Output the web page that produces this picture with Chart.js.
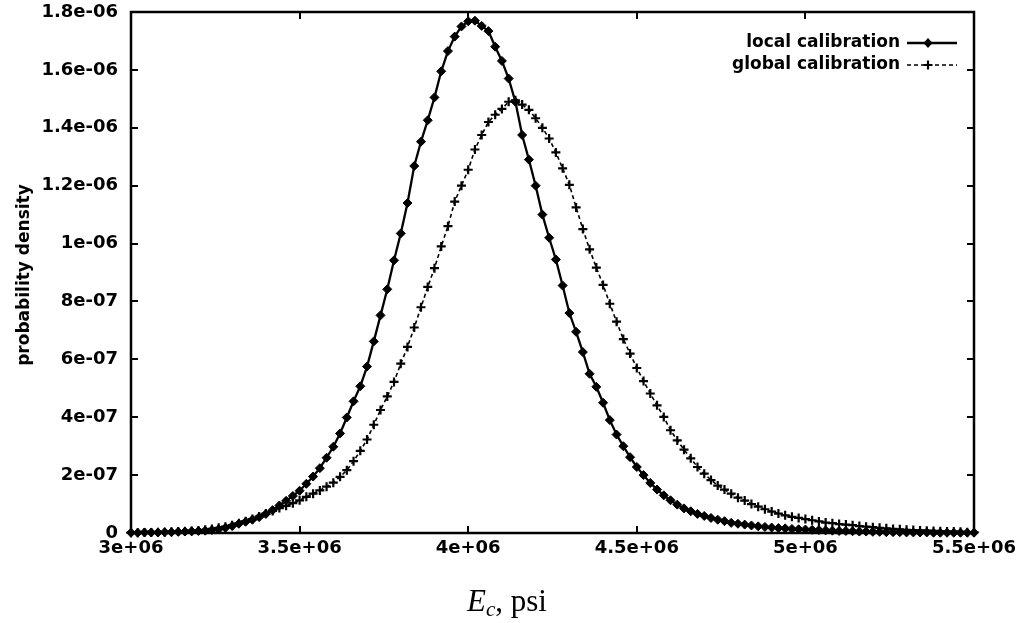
<!DOCTYPE html>
<html>
<head>
<meta charset="utf-8">
<script src="https://cdn.jsdelivr.net/npm/chart.js@4/dist/chart.umd.min.js"></script>
<style>
  html, body { margin: 0; padding: 0; background: #fff; }
  #wrap { width: 1024px; height: 623px; }
</style>
</head>
<body>
<div id="wrap"><canvas id="lineChart" width="1024" height="623"></canvas></div>
<script>
// x positions, in units of 1e6 psi
const ecMpsi = [
  3.00, 3.02, 3.04, 3.06, 3.08, 3.10, 3.12, 3.14, 3.16, 3.18,
  3.20, 3.22, 3.24, 3.26, 3.28, 3.30, 3.32, 3.34, 3.36, 3.38,
  3.40, 3.42, 3.44, 3.46, 3.48, 3.50, 3.52, 3.54, 3.56, 3.58,
  3.60, 3.62, 3.64, 3.66, 3.68, 3.70, 3.72, 3.74, 3.76, 3.78,
  3.80, 3.82, 3.84, 3.86, 3.88, 3.90, 3.92, 3.94, 3.96, 3.98,
  4.00, 4.02, 4.04, 4.06, 4.08, 4.10, 4.12, 4.14, 4.16, 4.18,
  4.20, 4.22, 4.24, 4.26, 4.28, 4.30, 4.32, 4.34, 4.36, 4.38,
  4.40, 4.42, 4.44, 4.46, 4.48, 4.50, 4.52, 4.54, 4.56, 4.58,
  4.60, 4.62, 4.64, 4.66, 4.68, 4.70, 4.72, 4.74, 4.76, 4.78,
  4.80, 4.82, 4.84, 4.86, 4.88, 4.90, 4.92, 4.94, 4.96, 4.98,
  5.00, 5.02, 5.04, 5.06, 5.08, 5.10, 5.12, 5.14, 5.16, 5.18,
  5.20, 5.22, 5.24, 5.26, 5.28, 5.30, 5.32, 5.34, 5.36, 5.38,
  5.40, 5.42, 5.44, 5.46, 5.48, 5.50
];

// densities, in units of 1e-7
const localCal = [
  0.01, 0.01, 0.02, 0.02, 0.02, 0.03, 0.03, 0.04, 0.05, 0.06,
  0.07, 0.08, 0.10, 0.13, 0.18, 0.24, 0.32, 0.39, 0.46, 0.55,
  0.66, 0.79, 0.95, 1.11, 1.28, 1.46, 1.70, 1.95, 2.24, 2.60,
  2.98, 3.44, 3.99, 4.55, 5.07, 5.75, 6.62, 7.52, 8.42, 9.42,
  10.35, 11.40, 12.68, 13.52, 14.26, 15.05, 15.95, 16.65, 17.15, 17.50,
  17.68, 17.70, 17.52, 17.34, 16.80, 16.31, 15.70, 14.90, 13.75, 12.90,
  12.00, 11.00, 10.20, 9.45, 8.55, 7.60, 6.95, 6.25, 5.50, 5.05,
  4.50, 3.90, 3.40, 3.00, 2.62, 2.28, 2.00, 1.73, 1.50, 1.30,
  1.13, 0.98, 0.85, 0.75, 0.66, 0.59, 0.52, 0.46, 0.41, 0.35,
  0.32, 0.29, 0.26, 0.23, 0.21, 0.19, 0.17, 0.16, 0.14, 0.13,
  0.12, 0.11, 0.10, 0.09, 0.08, 0.07, 0.07, 0.06, 0.05, 0.05,
  0.04, 0.04, 0.03, 0.03, 0.03, 0.02, 0.02, 0.02, 0.02, 0.01,
  0.01, 0.01, 0.01, 0.01, 0.01, 0.01
];

const globalCal = [
  0.01, 0.01, 0.02, 0.02, 0.03, 0.03, 0.04, 0.05, 0.06, 0.07,
  0.09, 0.11, 0.14, 0.18, 0.22, 0.27, 0.34, 0.41, 0.48, 0.57,
  0.67, 0.76, 0.86, 0.94, 1.03, 1.13, 1.25, 1.36, 1.47, 1.60,
  1.74, 1.94, 2.17, 2.48, 2.84, 3.23, 3.74, 4.25, 4.72, 5.22,
  5.85, 6.43, 7.10, 7.80, 8.50, 9.15, 9.90, 10.60, 11.45, 12.00,
  12.55, 13.25, 13.75, 14.20, 14.45, 14.65, 14.90, 14.95, 14.80, 14.62,
  14.33, 14.00, 13.63, 13.15, 12.60, 12.03, 11.25, 10.50, 9.80, 9.17,
  8.57, 7.92, 7.30, 6.70, 6.20, 5.70, 5.25, 4.82, 4.41, 4.01,
  3.55, 3.20, 2.88, 2.58, 2.28, 2.05, 1.83, 1.64, 1.50, 1.36,
  1.22, 1.12, 1.00, 0.91, 0.82, 0.74, 0.67, 0.61, 0.56, 0.52,
  0.48, 0.44, 0.40, 0.36, 0.34, 0.31, 0.29, 0.27, 0.24, 0.22,
  0.20, 0.18, 0.16, 0.14, 0.13, 0.11, 0.10, 0.09, 0.08, 0.07,
  0.06, 0.05, 0.05, 0.04, 0.03, 0.03
];

const xTicks = [3e6, 3.5e6, 4e6, 4.5e6, 5e6, 5.5e6];
const xTickLabels = ["3e+06", "3.5e+06", "4e+06", "4.5e+06", "5e+06", "5.5e+06"];
const yTicks = [0, 2e-7, 4e-7, 6e-7, 8e-7, 1e-6, 1.2e-6, 1.4e-6, 1.6e-6, 1.8e-6];
const yTickLabels = ["0", "2e-07", "4e-07", "6e-07", "8e-07", "1e-06", "1.2e-06", "1.4e-06", "1.6e-06", "1.8e-06"];

const toPoints = vals => vals.map((v, i) => ({ x: ecMpsi[i] * 1e6, y: v * 1e-7 }));

const tickFont = { family: "DejaVu Sans", size: 18, weight: "bold" };

function drawMarker(ctx, style, x, y) {
    ctx.beginPath();
    if (style === "rectRot") {
        ctx.moveTo(x, y - 5); ctx.lineTo(x + 4.5, y); ctx.lineTo(x, y + 5); ctx.lineTo(x - 4.5, y);
        ctx.closePath(); ctx.fill();
    } else {
        ctx.moveTo(x - 4.5, y); ctx.lineTo(x + 4.5, y); ctx.moveTo(x, y - 4.5); ctx.lineTo(x, y + 4.5);
        ctx.lineWidth = 2.2; ctx.stroke();
    }
}

// box, inward ticks on all sides, legend and axis titles
const decor = {
    id: "decor",
    afterDraw(chart) {
        const { ctx, chartArea: a, scales: { x, y } } = chart;
        ctx.save();
        ctx.strokeStyle = "#000";
        ctx.fillStyle = "#000";
        ctx.lineWidth = 2;
        ctx.beginPath();
        xTicks.forEach(v => {
            const px = Math.round(x.getPixelForValue(v));
            ctx.moveTo(px, a.bottom); ctx.lineTo(px, a.bottom - 7);
            ctx.moveTo(px, a.top); ctx.lineTo(px, a.top + 7);
        });
        yTicks.forEach(v => {
            const py = Math.round(y.getPixelForValue(v));
            ctx.moveTo(a.left, py); ctx.lineTo(a.left + 7, py);
            ctx.moveTo(a.right, py); ctx.lineTo(a.right - 7, py);
        });
        ctx.stroke();
        ctx.lineWidth = 2.5;
        ctx.strokeRect(a.left, a.top, a.right - a.left, a.bottom - a.top);

        // legend
        ctx.font = "bold 17px 'DejaVu Sans'";
        ctx.textAlign = "right";
        ctx.textBaseline = "middle";
        chart.data.datasets.forEach((ds, i) => {
            const ly = 43 + i * 22;
            ctx.fillText(ds.label, 900, ly);
            ctx.save();
            ctx.lineWidth = ds.borderWidth;
            ctx.setLineDash(ds.borderDash || []);
            ctx.beginPath(); ctx.moveTo(907, ly); ctx.lineTo(957, ly); ctx.stroke();
            ctx.restore();
            drawMarker(ctx, ds.pointStyle, 928, ly);
        });

        // y axis title
        ctx.save();
        ctx.translate(25, 275);
        ctx.rotate(-Math.PI / 2);
        ctx.textAlign = "center";
        ctx.font = "bold 17px 'DejaVu Sans'";
        ctx.fillText("probability density", 0, 0);
        ctx.restore();

        // x axis title: E_c, psi
        ctx.textAlign = "left";
        ctx.textBaseline = "alphabetic";
        const big = "31px 'Liberation Serif'";
        const parts = [
            { t: "E", f: "italic " + big, dy: 0 },
            { t: "c", f: "italic 21px 'Liberation Serif'", dy: 5 },
            { t: ", psi", f: big, dy: 0 }
        ];
        let w = 0;
        parts.forEach(p => { ctx.font = p.f; p.w = ctx.measureText(p.t).width; w += p.w; });
        let tx = 507 - w / 2;
        parts.forEach(p => { ctx.font = p.f; ctx.fillText(p.t, tx, 611 + p.dy); tx += p.w; });
        ctx.restore();
    }
};

const ctx = document.getElementById("lineChart").getContext("2d");

new Chart(ctx, {
    type: "line",
    data: {
        datasets: [{
            label: "local calibration",
            data: toPoints(localCal),
            borderColor: "#000",
            backgroundColor: "#000",
            borderWidth: 2.3,
            pointStyle: "rectRot",
            pointRadius: 4.5,
            pointBackgroundColor: "#000",
            pointBorderColor: "#000",
            pointBorderWidth: 1,
            clip: false
        }, {
            label: "global calibration",
            data: toPoints(globalCal),
            borderColor: "#000",
            backgroundColor: "#000",
            borderWidth: 1.6,
            borderDash: [4, 3],
            pointStyle: "cross",
            pointRadius: 4.5,
            pointBorderColor: "#000",
            pointBorderWidth: 2.2,
            clip: false
        }]
    },
    options: {
        responsive: false,
        animation: false,
        events: [],
        layout: { padding: { left: 0, top: 12, right: 50, bottom: 0 } },
        plugins: { legend: { display: false }, tooltip: { enabled: false } },
        scales: {
            x: {
                type: "linear",
                min: 3e6,
                max: 5.5e6,
                afterFit: s => { s.height = 90; s.paddingLeft = 0; s.paddingRight = 0; },
                afterBuildTicks: s => { s.ticks = xTicks.map(v => ({ value: v })); },
                grid: { display: false, drawTicks: false },
                border: { display: false },
                ticks: {
                    padding: 5,
                    color: "#000",
                    font: tickFont,
                    maxRotation: 0,
                    autoSkip: false,
                    callback: v => xTickLabels[xTicks.indexOf(v)]
                }
            },
            y: {
                type: "linear",
                min: 0,
                max: 1.8e-6,
                afterFit: s => { s.width = 131; s.paddingTop = 0; s.paddingBottom = 0; },
                afterBuildTicks: s => { s.ticks = yTicks.map(v => ({ value: v })); },
                grid: { display: false, drawTicks: false },
                border: { display: false },
                ticks: {
                    padding: 13,
                    color: "#000",
                    font: tickFont,
                    autoSkip: false,
                    callback: v => yTickLabels[yTicks.indexOf(v)]
                }
            }
        }
    },
    plugins: [decor]
});
</script>
</body>
</html>
